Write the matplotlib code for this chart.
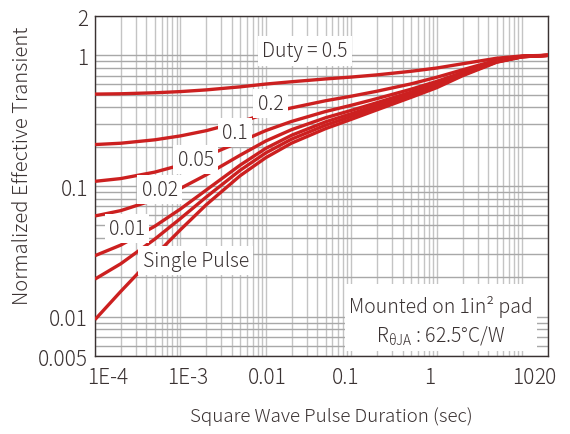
import matplotlib
matplotlib.use("Agg")
import matplotlib.pyplot as plt
import matplotlib.transforms as mtransforms
from matplotlib.patches import Rectangle
from matplotlib.ticker import LogLocator, NullFormatter

plt.rcParams['font.family'] = ['Noto Sans CJK JP', 'DejaVu Sans']
plt.rcParams['mathtext.fontset'] = 'custom'
plt.rcParams['mathtext.rm'] = 'Noto Sans CJK JP'

# pulse duration (sec)
t = [1e-4, 2e-4, 5e-4, 1e-3, 2e-3, 5e-3, 1e-2, 2e-2, 5e-2,
     0.1, 0.2, 0.5, 1, 2, 5, 10, 20]

# normalized effective transient thermal impedance per duty cycle
duty_05 = [0.505, 0.508, 0.517, 0.528, 0.544, 0.574, 0.603, 0.628, 0.660,
           0.682, 0.709, 0.755, 0.800, 0.862, 0.950, 0.990, 1.0]
duty_02 = [0.2076, 0.2125, 0.2257, 0.2418, 0.2651, 0.3108, 0.3552, 0.3963, 0.4494,
           0.4868, 0.5317, 0.6049, 0.680, 0.775, 0.918, 0.984, 1.0]
duty_01 = [0.1086, 0.114, 0.1277, 0.1445, 0.1695, 0.2184, 0.2659, 0.3121, 0.3718,
           0.4151, 0.4669, 0.5505, 0.632, 0.740, 0.905, 0.980, 1.0]
duty_005 = [0.059, 0.0648, 0.0786, 0.0959, 0.1217, 0.1722, 0.2213, 0.2701, 0.3331,
            0.3793, 0.4346, 0.5233, 0.607, 0.728, 0.900, 0.978, 1.0]
duty_002 = [0.0293, 0.0353, 0.0492, 0.0667, 0.0931, 0.1445, 0.1944, 0.2447, 0.3098,
            0.3578, 0.4151, 0.507, 0.592, 0.718, 0.895, 0.977, 1.0]
duty_001 = [0.0194, 0.0254, 0.0392, 0.0564, 0.0823, 0.132, 0.1795, 0.2286, 0.2922,
            0.3407, 0.3989, 0.4918, 0.578, 0.708, 0.890, 0.976, 1.0]
single = [0.0095, 0.0156, 0.0293, 0.0463, 0.0718, 0.120, 0.165, 0.213, 0.275,
          0.324, 0.383, 0.477, 0.566, 0.698, 0.885, 0.975, 1.0]

curves = [duty_05, duty_02, duty_01, duty_005, duty_002, duty_001, single]
curve_labels = ["Duty = 0.5", "0.2", "0.1", "0.05", "0.02", "0.01", "Single Pulse"]
label_pos = [(0.0284, 1.08), (0.0113, 0.428), (0.00437, 0.257), (0.00151, 0.1595),
             (5.7e-4, 0.094), (2.36e-4, 0.0473), (0.00151, 0.0269)]

xticks = [1e-4, 1e-3, 1e-2, 0.1, 1, 10, 20]
xticklabels = ["1E-4", "1E-3", "0.01", "0.1", "1", "10", "20"]
yticks = [0.005, 0.01, 0.1, 1, 2]
yticklabels = ["0.005", "0.01", "0.1", "1", "2"]

red = '#cc2020'
txt = '#3a3232'

fig = plt.figure(figsize=(5.7, 4.35), dpi=100)
ax = fig.add_axes([0.1667, 0.1793, 0.7947, 0.7816])
ax.set_xscale('log')
ax.set_yscale('log')
ax.set_xlim(1e-4, 20)
ax.set_ylim(0.005, 2)

ax.xaxis.set_minor_locator(LogLocator(base=10, subs=range(2, 10), numticks=20))
ax.yaxis.set_minor_locator(LogLocator(base=10, subs=range(2, 10), numticks=20))
ax.xaxis.set_minor_formatter(NullFormatter())
ax.yaxis.set_minor_formatter(NullFormatter())
ax.grid(True, which='both', axis='x', color='#c4c4c4', lw=1)
ax.grid(True, which='both', axis='y', color='#a8a8a8', lw=1)
ax.set_axisbelow(True)

for c in curves:
    ax.plot(t, c, color=red, lw=2.4, solid_capstyle='butt', zorder=3)

for lab, (lx, ly) in zip(curve_labels, label_pos):
    ax.text(lx, ly, lab, fontsize=14, color=txt, ha='center', va='center',
            fontweight='light', zorder=5,
            bbox=dict(boxstyle='square,pad=0.22', fc='white', ec='none'))

# info box
ax.add_patch(Rectangle((0.552, 0.015), 0.424, 0.197, transform=ax.transAxes,
                       fc='white', ec='none', zorder=4))
ax.text(0.764, 0.148, "Mounted on 1in² pad", transform=ax.transAxes, fontsize=14,
        color=txt, ha='center', va='center', fontweight='light', zorder=5)
ax.text(0.764, 0.064, r"R$_{\mathregular{θJA}}$ : 62.5°C/W", transform=ax.transAxes,
        fontsize=14, color=txt, ha='center', va='center', fontweight='light', zorder=5)

ax.set_xticks(xticks)
ax.set_xticklabels(xticklabels)
ax.set_yticks(yticks)
ax.set_yticklabels(yticklabels)

ax.tick_params(which='both', length=0, labelsize=15, labelcolor=txt)
ax.tick_params(axis='x', pad=7)
ax.tick_params(axis='y', pad=5)

# nudge x tick labels
shifts = [13, 7, 1, -6, -7, 1, -3]
for lbl, dx in zip(ax.get_xticklabels(), shifts):
    lbl.set_transform(lbl.get_transform() +
                      mtransforms.ScaledTranslation(dx / 100, 0, fig.dpi_scale_trans))
for lbl in ax.get_xticklabels() + ax.get_yticklabels():
    lbl.set_fontweight('light')

for s in ax.spines.values():
    s.set_color('#3a3232')
    s.set_linewidth(1)

fig.text(0.5816, 0.0414, "Square Wave Pulse Duration (sec)", fontsize=13.5,
         color=txt, ha='center', va='center', fontweight='light')
fig.text(0.0386, 0.618, "Normalized Effective Transient", fontsize=14.5,
         color=txt, ha='center', va='center', rotation=90, fontweight='light')

fig.savefig('out.png', dpi=100)
